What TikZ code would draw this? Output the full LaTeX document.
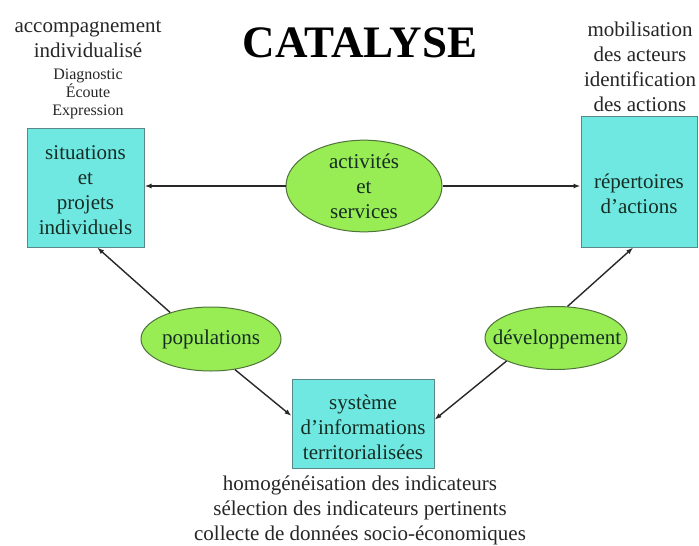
\documentclass[tikz,border=0pt]{standalone}
\usepackage{fontspec}
\setmainfont{Liberation Serif}
\usetikzlibrary{shapes.geometric,arrows.meta}
\definecolor{boxfill}{RGB}{112,232,226}
\definecolor{boxline}{RGB}{90,135,135}
\definecolor{ellfill}{RGB}{152,236,84}
\definecolor{ellline}{RGB}{80,115,60}
\definecolor{inktext}{RGB}{22,45,35}
\definecolor{linecol}{RGB}{40,40,40}
\tikzset{
  bigtxt/.style={font=\fontsize{21}{25}\selectfont, align=center, inner sep=0pt, text=black!85},
  smalltxt/.style={font=\fontsize{16}{18}\selectfont, align=center, inner sep=0pt, text=black!85},
  cbox/.style={draw=boxline, line width=1pt, fill=boxfill, rectangle, inner sep=0pt,
    font=\fontsize{21}{25}\selectfont, align=center, text=inktext},
  gell/.style={draw=ellline, line width=1pt, fill=ellfill, ellipse, inner sep=0pt,
    font=\fontsize{21}{25}\selectfont, align=center, text=inktext},
  arr/.style={draw=linecol, line width=1.4pt, -{Latex[length=7pt,width=5pt]}}
}
\begin{document}
\begin{tikzpicture}[x=1pt,y=-1pt]
\useasboundingbox (0,0) rectangle (699,546);
% title
\node[font=\fontsize{45}{45}\selectfont\bfseries, inner sep=0pt] (title) at (360,43) {CATALYSE};
% annotations
\node[bigtxt] (accomp) at (88,39) {accompagnement\\individualisé};
\node[smalltxt] (diag) at (88,94) {Diagnostic\\Écoute\\Expression};
\node[bigtxt] (mobil) at (640,67) {mobilisation\\des acteurs\\identification\\des actions};
\node[bigtxt] (homog) at (360,510) {homogénéisation des indicateurs\\sélection des indicateurs pertinents\\collecte de données socio-économiques};
% boxes
\node[cbox, minimum width=117pt, minimum height=119pt] (sit) at (85.5,187.5) {};
\node[bigtxt, text=inktext] (sittxt) at (85.5,190) {situations\\et\\projets\\individuels};
\node[cbox, minimum width=116pt, minimum height=131pt] (rep) at (639,181.5) {};
\node[bigtxt, text=inktext] (reptxt) at (639,194) {répertoires\\d'actions};
\node[cbox, minimum width=142pt, minimum height=89pt] (sys) at (363,423.5) {};
\node[bigtxt, text=inktext] (systxt) at (363,427) {système\\d'informations\\territorialisées};
% ellipses
\node[gell, minimum width=156pt, minimum height=88pt] (act) at (364,186) {activités\\et\\services};
\node[gell, minimum width=140pt, minimum height=64pt] (pop) at (211,339) {populations};
\node[gell, minimum width=142pt, minimum height=63pt] (dev) at (556,338) {};
\node[bigtxt, text=inktext] (devtxt) at (557,339) {développement};
% connectors
\draw[arr] (act.west) -- (act.west -| sit.east);
\draw[arr] (act.east) -- (act.east -| rep.west);
\draw[arr] (pop.147) -- (sit.-79);
\draw[arr] (pop.-52) -- (sys.174);
\draw[arr] (dev.205) -- (sys.3);
\draw[arr] (dev.70) -- (rep.-95);
\end{tikzpicture}
\end{document}
